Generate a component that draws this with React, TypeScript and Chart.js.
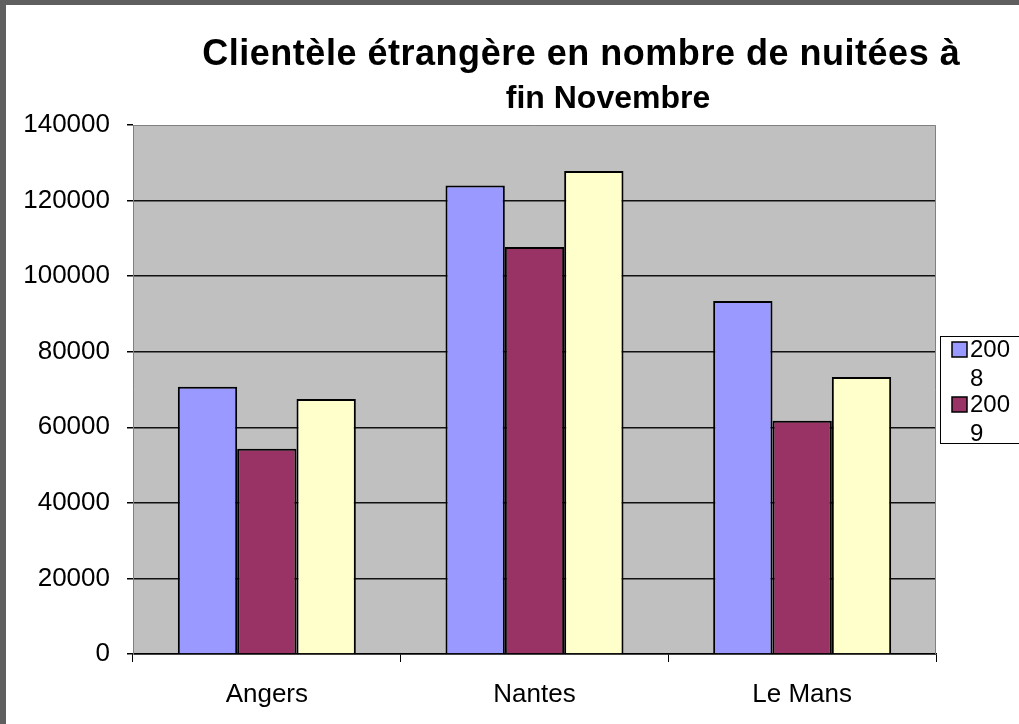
import React, { useEffect, useRef } from "react";
import { Chart, registerables } from "chart.js";

Chart.register(...registerables);

const categories = ["Angers", "Nantes", "Le Mans"];
const seriesLabels = ["2008", "2009", "2010"];
const values2008 = [70700, 124000, 93400];
const values2009 = [54300, 107700, 61700];
const values2010 = [67500, 127800, 73300];
const seriesColors = ["#9999FF", "#993366", "#FFFFCC"];
const titleLines = ["Clientèle étrangère en nombre de nuitées à", "fin Novembre"];
const yMin = 0;
const yMax = 140000;
const yStep = 20000;

const FONT = "'Liberation Sans', Arial, sans-serif";
const W = 1013;
const H = 719;

const plotBgPlugin = {
  id: "plotBg",
  beforeDraw(chart: any) {
    const { ctx, chartArea: a } = chart;
    ctx.save();
    ctx.fillStyle = "#C0C0C0";
    ctx.fillRect(a.left, a.top, a.right - a.left, a.bottom - a.top);
    ctx.restore();
  },
  beforeDatasetsDraw(chart: any) {
    const { ctx, chartArea: a } = chart;
    ctx.save();
    ctx.strokeStyle = "#808080";
    ctx.lineWidth = 1;
    ctx.beginPath();
    ctx.moveTo(a.left, a.top + 0.5);
    ctx.lineTo(a.right - 0.5, a.top + 0.5);
    ctx.lineTo(a.right - 0.5, a.bottom);
    ctx.stroke();
    ctx.restore();
  },
};

function fillFitted(ctx: any, text: string, cx: number, y: number, targetW: number) {
  ctx.letterSpacing = "0px";
  const natural = ctx.measureText(text).width;
  const n = Array.from(text).length;
  const sp = n > 1 ? (targetW - natural) / n : 0;
  ctx.letterSpacing = `${sp}px`;
  const w = ctx.measureText(text).width;
  ctx.textAlign = "left";
  ctx.fillText(text, cx - (w - sp) / 2, y);
  ctx.letterSpacing = "0px";
}

const titlePlugin = {
  id: "customTitle",
  afterDraw(chart: any) {
    const ctx = chart.ctx;
    ctx.save();
    ctx.fillStyle = "#000";
    ctx.textBaseline = "alphabetic";
    ctx.font = `bold 36px ${FONT}`;
    fillFitted(ctx, titleLines[0], 575, 60, 758);
    ctx.font = `bold 32px ${FONT}`;
    ctx.textAlign = "center";
    ctx.fillText(titleLines[1], 602, 103);
    ctx.restore();
  },
};

function wrapChars(ctx: any, text: string, maxW: number): string[] {
  const lines: string[] = [];
  let cur = "";
  for (const ch of text) {
    if (cur && ctx.measureText(cur + ch).width > maxW) {
      lines.push(cur);
      cur = ch;
    } else cur += ch;
  }
  if (cur) lines.push(cur);
  return lines;
}

const legendPlugin = {
  id: "customLegend",
  afterDraw(chart: any) {
    const ctx = chart.ctx;
    const boxLeft = 934;
    const boxTop = 331.5;
    const boxH = 107;
    ctx.save();
    ctx.fillStyle = "#FFFFFF";
    ctx.fillRect(boxLeft, boxTop, W - boxLeft + 2, boxH);
    ctx.strokeStyle = "#000";
    ctx.lineWidth = 1;
    ctx.strokeRect(boxLeft + 0.5, boxTop, W - boxLeft + 2, boxH);
    ctx.beginPath();
    ctx.rect(boxLeft + 1, boxTop + 1, W, boxH - 2);
    ctx.clip();
    ctx.font = `24px ${FONT}`;
    ctx.textBaseline = "middle";
    ctx.textAlign = "left";
    const textX = 964;
    const lineH = 29;
    const entryStep = 55;
    let y = boxTop + 5.5;
    chart.data.datasets.forEach((ds: any) => {
      const lines = wrapChars(ctx, ds.label, W - textX - 2);
      if (y + 16 > boxTop + boxH) return;
      ctx.fillStyle = ds.backgroundColor;
      ctx.fillRect(946, y, 15, 15);
      ctx.strokeStyle = "#000";
      ctx.lineWidth = 1.5;
      ctx.strokeRect(946, y, 15, 15);
      ctx.fillStyle = "#000";
      lines.forEach((ln, i) => ctx.fillText(ln, textX, y + 8.5 + i * lineH));
      y += entryStep;
    });
    ctx.restore();
  },
};

export default function App() {
  const ref = useRef<HTMLCanvasElement>(null);
  useEffect(() => {
    if (!ref.current) return;
    const yTickValues: number[] = [];
    for (let v = yMin; v <= yMax; v += yStep) yTickValues.push(v);
    const values = [values2008, values2009, values2010];
    const chart = new Chart(ref.current, {
      type: "bar",
      data: {
        labels: categories,
        datasets: seriesLabels.map((label, i) => ({
          label,
          data: values[i],
          backgroundColor: seriesColors[i],
          borderColor: "#000",
          borderWidth: 2,
          categoryPercentage: 0.665,
          barPercentage: 1,
        })),
      },
      options: {
        responsive: false,
        animation: false,
        layout: { padding: { top: 120, right: 83, left: 0, bottom: 0 } },
        plugins: {
          legend: { display: false },
          title: { display: false },
          tooltip: { enabled: false },
        },
        scales: {
          x: {
            offset: true,
            grid: {
              offset: true,
              drawOnChartArea: false,
              drawTicks: true,
              tickLength: 8,
              tickColor: "#000",
            },
            border: { display: true, color: "#000", width: 1.5 },
            ticks: { color: "#000", font: { family: FONT, size: 26 }, padding: 17, maxRotation: 0 },
            afterFit(scale: any) {
              scale.height = 70;
            },
          },
          y: {
            min: yMin,
            max: yMax,
            afterBuildTicks(scale: any) {
              scale.ticks = yTickValues.map((v) => ({ value: v }));
            },
            grid: {
              color: (c: any) => (c.tick && c.tick.value === yMax ? "rgba(0,0,0,0)" : "#111"),
              lineWidth: 1.5,
              drawTicks: true,
              tickLength: 6,
              tickColor: "#000",
            },
            border: { display: true, color: "#808080", width: 1 },
            ticks: {
              color: "#000",
              font: { family: FONT, size: 26 },
              padding: 17,
              callback: (v: any) => String(v),
            },
            afterFit(scale: any) {
              scale.width = 127;
            },
          },
        },
      },
      plugins: [plotBgPlugin, titlePlugin, legendPlugin],
    } as any);
    return () => chart.destroy();
  }, []);

  return (
    <div
      style={{
        position: "fixed",
        left: 0,
        top: 0,
        width: 1019,
        height: 724,
        boxSizing: "border-box",
        borderTop: "5px solid #5f5f5f",
        borderLeft: "6px solid #5f5f5f",
        background: "#fff",
        overflow: "hidden",
      }}
    >
      <canvas ref={ref} width={W} height={H} style={{ display: "block", width: W, height: H }} />
    </div>
  );
}
